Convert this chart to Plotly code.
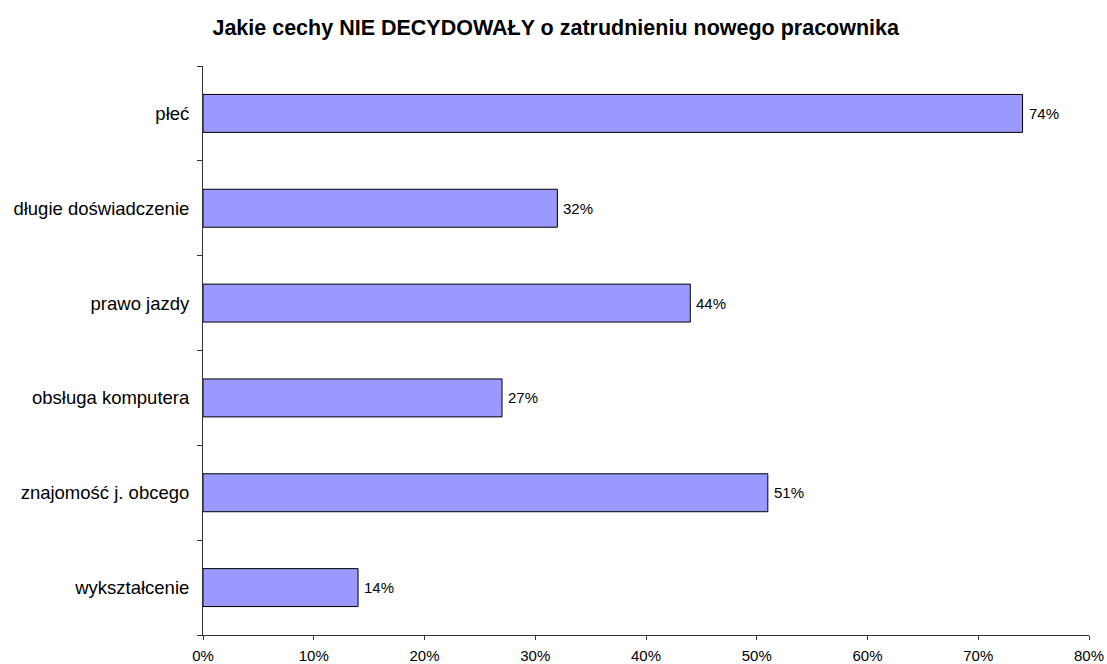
import plotly.graph_objects as go

# Survey categories (bottom to top) and share of respondents
categories = ["wykształcenie", "znajomość j. obcego", "obsługa komputera",
              "prawo jazdy", "długie doświadczenie", "płeć"]
values = [14, 51, 27, 44, 32, 74]
tick_vals = [0, 10, 20, 30, 40, 50, 60, 70, 80]
tick_text = [f"{v}%" for v in tick_vals]

FONT = "Liberation Sans, Arial, Helvetica"

fig = go.Figure(go.Bar(
    x=values,
    y=categories,
    orientation="h",
    width=0.4,
    marker=dict(color="#9999FF", line=dict(color="black", width=1)),
))

# Percentage labels just right of each bar end
for cat, val in zip(categories, values):
    fig.add_annotation(
        x=val, y=cat, xref="x", yref="y",
        text=f"{val}%", showarrow=False,
        xanchor="left", yanchor="middle", xshift=4,
        font=dict(size=15, color="black", family=FONT),
    )

fig.update_layout(
    width=1107,
    height=664,
    margin=dict(l=203, r=18, t=66, b=29),
    paper_bgcolor="white",
    plot_bgcolor="white",
    font=dict(family=FONT, size=15, color="black"),
    title=dict(
        text="<b>Jakie cechy NIE DECYDOWAŁY o zatrudnieniu nowego pracownika</b>",
        x=0.502, xanchor="center", y=0.958, yanchor="middle",
        font=dict(size=21.5, color="black", family=FONT),
    ),
    showlegend=False,
    bargap=0.6,
)

fig.update_xaxes(
    range=[0, 80],
    tickvals=tick_vals,
    ticktext=tick_text,
    showgrid=False,
    zeroline=False,
    showline=True,
    linecolor="#333333",
    linewidth=1,
    ticks="outside",
    ticklen=4,
    tickcolor="#333333",
    tickfont=dict(size=15),
    ticklabelstandoff=3,
    automargin=False,
)

fig.update_yaxes(
    categoryorder="array",
    categoryarray=categories,
    showgrid=False,
    showline=True,
    linecolor="#333333",
    linewidth=1,
    ticks="outside",
    tickson="boundaries",
    ticklen=5,
    tickcolor="#333333",
    tickfont=dict(size=18.5),
    ticklabelstandoff=9,
    automargin=False,
)

fig.write_html("out.html")
